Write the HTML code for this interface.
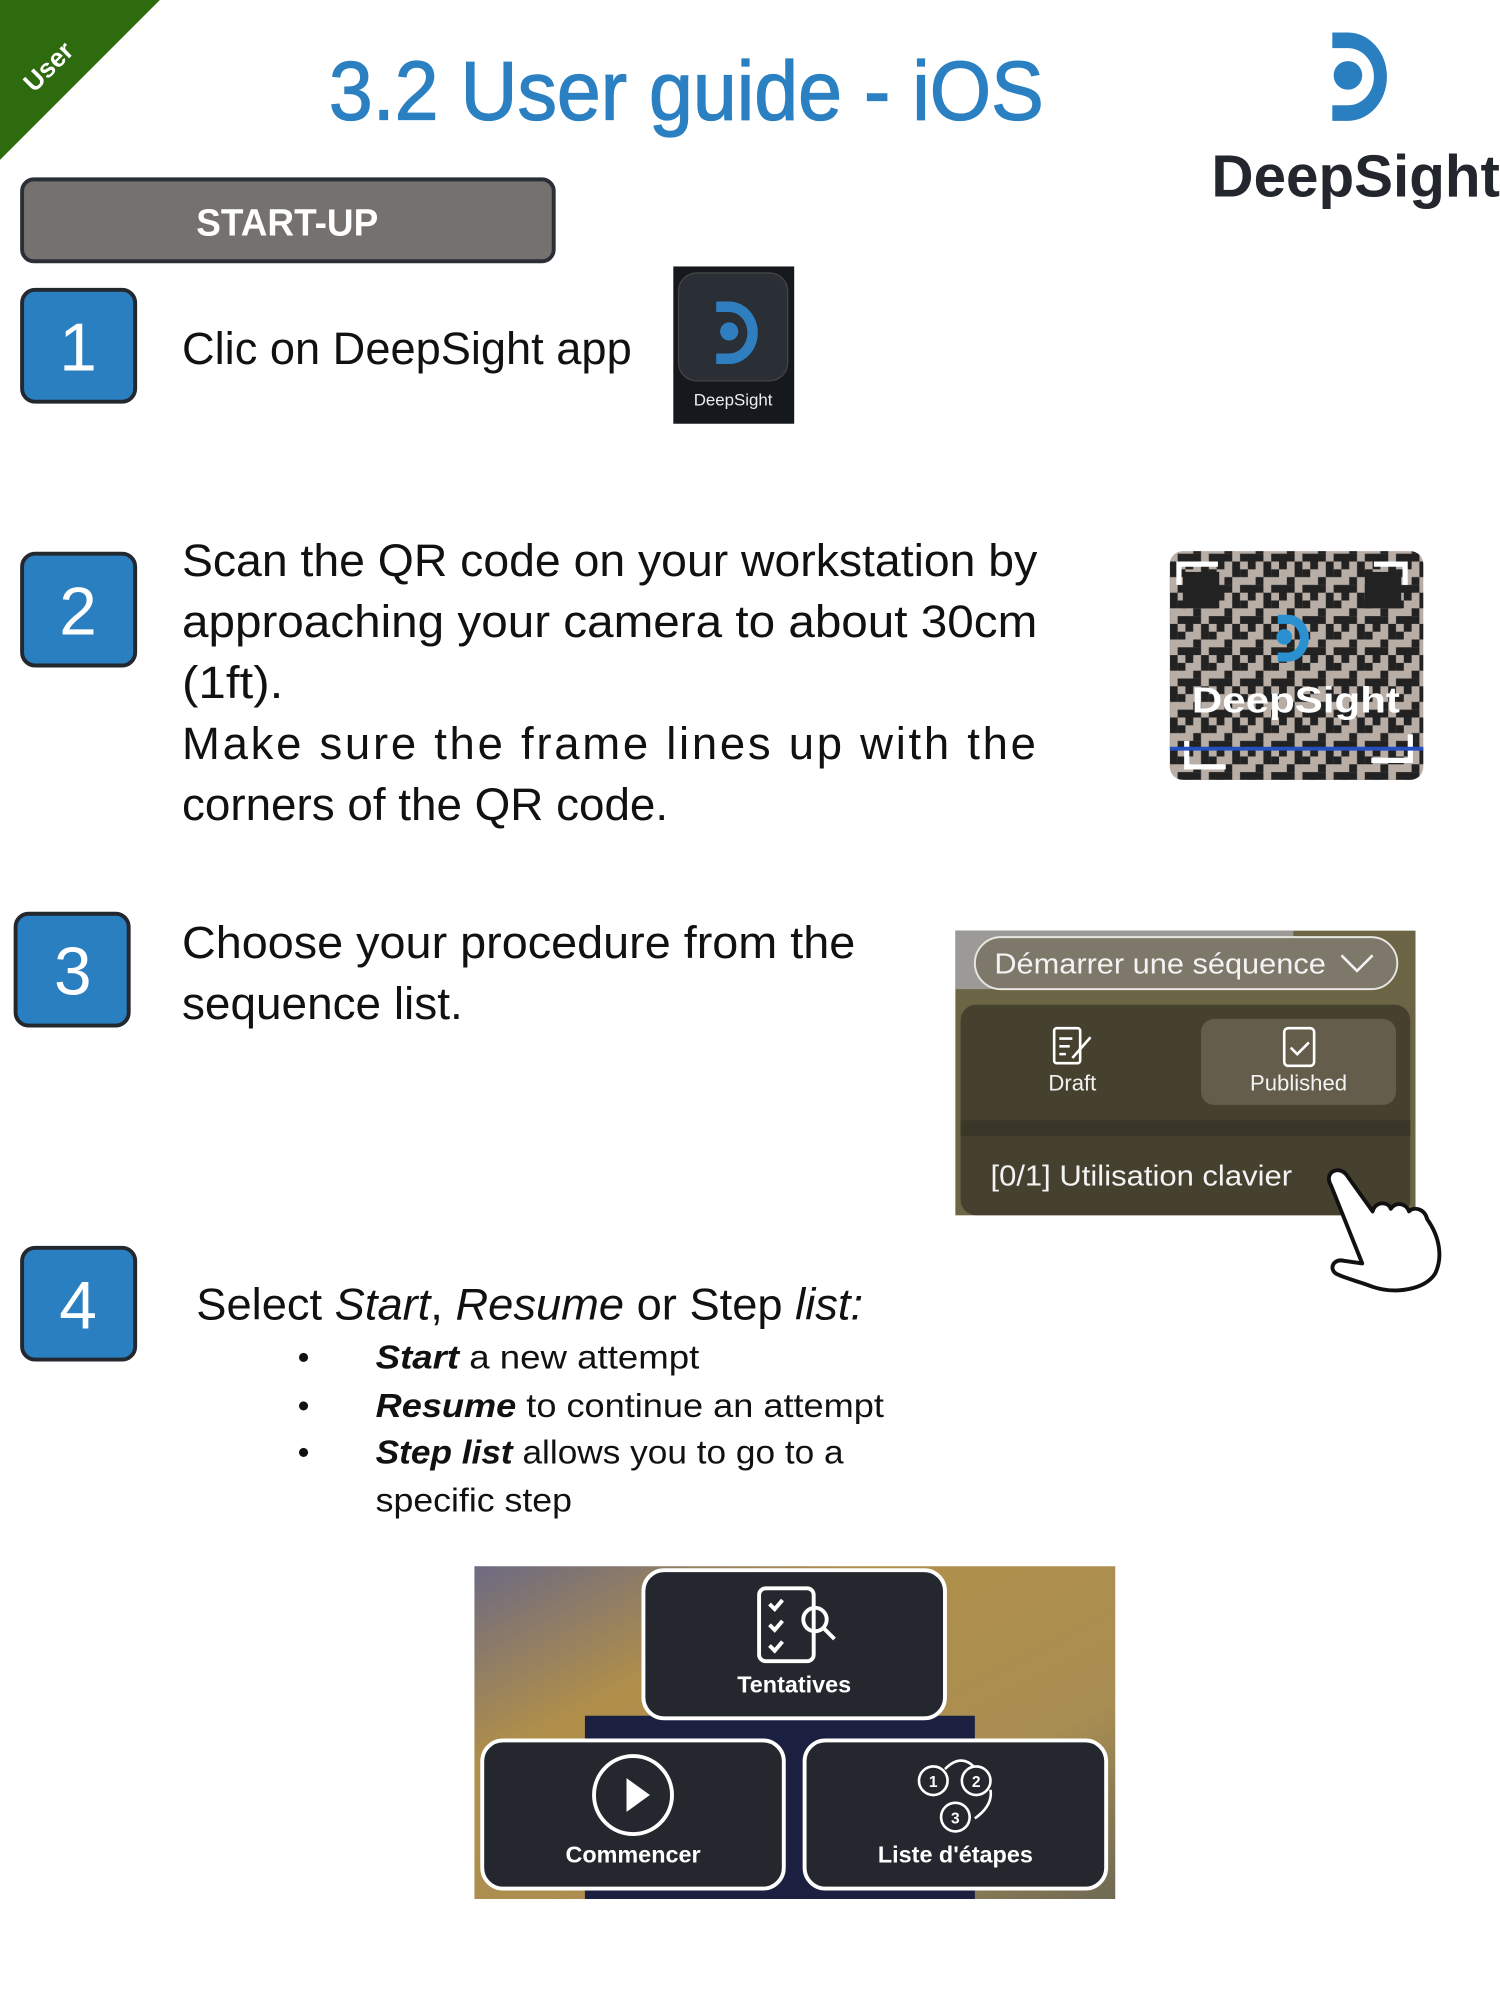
<!DOCTYPE html>
<html><head><meta charset="utf-8"><style>html,body{margin:0;padding:0;background:#fff}svg{display:block}</style></head><body>
<svg width="1500" height="2000" viewBox="0 0 1154 1538.7" preserveAspectRatio="none" xmlns="http://www.w3.org/2000/svg" font-family="'Liberation Sans', sans-serif">
<defs>
<pattern id="qr" width="24" height="24" patternUnits="userSpaceOnUse">
<rect width="24" height="24" fill="#b9aea6"/>
<rect x="0" y="0" width="6" height="6" fill="#222"/><rect x="12" y="0" width="6" height="12" fill="#222"/>
<rect x="6" y="12" width="6" height="6" fill="#222"/><rect x="18" y="6" width="6" height="6" fill="#222"/>
<rect x="0" y="18" width="12" height="6" fill="#222"/><rect x="18" y="18" width="6" height="6" fill="#222"/>
</pattern>
<linearGradient id="bg4" x1="0" y1="0" x2="1" y2="1">
<stop offset="0" stop-color="#6d6a82"/><stop offset="0.3" stop-color="#b08f4a"/><stop offset="0.7" stop-color="#a98e52"/><stop offset="1" stop-color="#6f6a55"/></linearGradient>
</defs>
<!-- green corner -->
<polygon points="0,0 123,0 0,123" fill="#2e6a0e"/>
<text x="42" y="56" transform="rotate(-45 42 56)" text-anchor="middle" fill="#fff" font-weight="bold" font-size="20">User</text>
<!-- title -->
<text x="253" y="92" font-size="64" fill="#2b80c2" stroke="#2b80c2" stroke-width="1" textLength="550" lengthAdjust="spacingAndGlyphs">3.2 User guide - iOS</text>
<!-- logo -->
<path d="M1025,25 h12 a30,34 0 0 1 0,68 h-12 v-12 h12 a20,22 0 0 0 0,-44 h-12 z" fill="#2a7fc0"/>
<circle cx="1037" cy="58" r="11" fill="#2a7fc0"/>
<text x="932" y="151" font-size="46" font-weight="bold" fill="#23262d" textLength="222" lengthAdjust="spacingAndGlyphs">DeepSight</text>
<!-- START-UP -->
<rect x="17" y="138" width="409" height="63" rx="9" fill="#75716e" stroke="#2b2f36" stroke-width="3"/>
<text x="221" y="181" text-anchor="middle" font-size="29" font-weight="bold" fill="#fff" textLength="140" lengthAdjust="spacingAndGlyphs">START-UP</text>
<!-- number boxes -->
<g fill="#2a7fc0" stroke="#23272e" stroke-width="3">
<rect x="17" y="223" width="87" height="86" rx="10"/>
<rect x="17" y="426" width="87" height="86" rx="10"/>
<rect x="12" y="703" width="87" height="86" rx="10"/>
<rect x="17" y="960" width="87" height="86" rx="10"/>
</g>
<g fill="#fff" font-size="52" text-anchor="middle">
<text x="60" y="285">1</text><text x="60" y="488">2</text><text x="56" y="765">3</text><text x="60" y="1022">4</text>
</g>
<!-- step 1 -->
<g font-size="35" fill="#111">
<text x="140" y="280" textLength="346" lengthAdjust="spacingAndGlyphs">Clic on DeepSight app</text>
<text x="140" y="443" textLength="658" lengthAdjust="spacingAndGlyphs">Scan the QR code on your workstation by</text>
<text x="140" y="490" textLength="658" lengthAdjust="spacingAndGlyphs">approaching your camera to about 30cm</text>
<text x="140" y="537" textLength="78" lengthAdjust="spacingAndGlyphs">(1ft).</text>
<text x="140" y="584" textLength="657" lengthAdjust="spacing">Make sure the frame lines up with the</text>
<text x="140" y="631" textLength="374" lengthAdjust="spacingAndGlyphs">corners of the QR code.</text>
<text x="140" y="737" textLength="518" lengthAdjust="spacingAndGlyphs">Choose your procedure from the</text>
<text x="140" y="784" textLength="216" lengthAdjust="spacingAndGlyphs">sequence list.</text>
</g>
<!-- app icon -->
<rect x="518" y="205" width="93" height="121" fill="#15181d"/>
<rect x="522" y="210" width="84" height="83" rx="14" fill="#2a2e35" stroke="#444" stroke-width="1"/>
<path d="M551,232 h10 a22,24 0 0 1 0,48 h-10 v-8 h10 a14,16 0 0 0 0,-32 h-10 z" fill="#2f7fc0"/>
<circle cx="561" cy="255" r="7" fill="#2f7fc0"/>
<text x="564" y="312" text-anchor="middle" font-size="13" fill="#eee">DeepSight</text>
<!-- QR -->
<rect x="900" y="424" width="195" height="176" rx="10" fill="url(#qr)"/>
<g fill="none" stroke="#fff" stroke-width="4">
<path d="M907,450 v-16 h30"/><path d="M1057,434 h24 v16"/><path d="M913,570 v20 h30"/><path d="M1055,585 h30 v-20"/>
</g>
<rect x="910" y="440" width="28" height="28" fill="#222"/><rect x="1050" y="440" width="28" height="28" fill="#222"/>
<line x1="900" y1="576" x2="1095" y2="576" stroke="#2450c0" stroke-width="3"/>
<path d="M983,473 h8 a16,18 0 0 1 0,36 h-8 v-7 h8 a9,11 0 0 0 0,-22 h-8 z" fill="#2a90d0"/>
<circle cx="988" cy="490" r="6" fill="#2a90d0"/>
<text x="997" y="548" text-anchor="middle" font-size="28" font-weight="bold" fill="#fff" textLength="160" lengthAdjust="spacingAndGlyphs">DeepSight</text>
<!-- screenshot 3 -->
<rect x="735" y="716" width="354" height="219" fill="#6c6545"/>
<rect x="735" y="716" width="260" height="45" fill="#9c9a97"/>
<rect x="750" y="721" width="325" height="40" rx="20" fill="#7d7869" stroke="#e8e6e0" stroke-width="1.5"/>
<text x="765" y="749" font-size="22" fill="#f3f3f3" textLength="255" lengthAdjust="spacingAndGlyphs">Démarrer une séquence</text>
<path d="M1032,735 l12,12 l12,-12" fill="none" stroke="#f3f3f3" stroke-width="2"/>
<rect x="739" y="773" width="346" height="162" rx="12" fill="#46412f"/>
<rect x="739" y="862" width="346" height="12" fill="#3a3628"/>
<rect x="924" y="784" width="150" height="66" rx="10" fill="#645d4b"/>
<rect x="811" y="791" width="20" height="27" rx="2" fill="none" stroke="#fff" stroke-width="2"/>
<path d="M815,799 h10 M815,805 h8 M815,811 h5 M825,814 l14,-16" stroke="#fff" stroke-width="2"/>
<rect x="988" y="791" width="23" height="29" rx="3" fill="none" stroke="#fff" stroke-width="2"/>
<path d="M993,806 l5,5 l9,-9" fill="none" stroke="#fff" stroke-width="2"/>
<text x="825" y="839" text-anchor="middle" font-size="17" fill="#f3f3f3">Draft</text>
<text x="999" y="839" text-anchor="middle" font-size="17" fill="#f3f3f3">Published</text>
<text x="762" y="912" font-size="22" fill="#f3f3f3" textLength="232" lengthAdjust="spacingAndGlyphs">[0/1] Utilisation clavier</text>
<!-- hand -->
<path d="M1024,912 c-6,-10 6,-16 12,-8 l20,28 c2,-8 12,-8 14,-2 c4,-6 12,-4 14,2 c4,-4 12,-2 14,6 c10,14 12,30 6,42 c-8,12 -30,16 -48,10 c-10,-4 -20,-6 -28,-10 c-6,-4 -2,-12 6,-10 l14,2 z" fill="#fff" stroke="#111" stroke-width="3" stroke-linejoin="round"/>
<!-- step 4 -->
<text x="151" y="1015" font-size="34" fill="#111" textLength="513" lengthAdjust="spacingAndGlyphs">Select <tspan font-style="italic">Start</tspan>, <tspan font-style="italic">Resume</tspan> or Step <tspan font-style="italic">list:</tspan></text>
<g font-size="26" fill="#111">
<text x="229" y="1053">•</text><text x="229" y="1090">•</text><text x="229" y="1126">•</text>
<text x="289" y="1053" textLength="249" lengthAdjust="spacingAndGlyphs"><tspan font-weight="bold" font-style="italic">Start</tspan> a new attempt</text>
<text x="289" y="1090" textLength="391" lengthAdjust="spacingAndGlyphs"><tspan font-weight="bold" font-style="italic">Resume</tspan> to continue an attempt</text>
<text x="289" y="1126" textLength="360" lengthAdjust="spacingAndGlyphs"><tspan font-weight="bold" font-style="italic">Step list</tspan> allows you to go to a</text>
<text x="289" y="1163" textLength="151" lengthAdjust="spacingAndGlyphs">specific step</text>
</g>
<!-- bottom screenshot -->
<rect x="365" y="1205" width="493" height="256" fill="url(#bg4)"/>
<rect x="450" y="1320" width="300" height="141" fill="#1c2040"/>
<g fill="#24282e" stroke="#fff" stroke-width="3">
<rect x="495" y="1208" width="232" height="114" rx="16"/>
<rect x="371" y="1339" width="232" height="114" rx="16"/>
<rect x="619" y="1339" width="232" height="114" rx="16"/>
</g>
<g fill="none" stroke="#fff" stroke-width="3">
<rect x="584" y="1222" width="42" height="56" rx="5"/>
<circle cx="627" cy="1246" r="9"/><path d="M634,1253 l8,8"/>
<path d="M592,1234 l4,4 l6,-7 M592,1250 l4,4 l6,-7 M592,1266 l4,4 l6,-7"/>
<circle cx="487" cy="1381" r="30"/>
<circle cx="718" cy="1370" r="11" stroke-width="2"/><circle cx="751" cy="1370" r="11" stroke-width="2"/><circle cx="735" cy="1398" r="11" stroke-width="2"/>
<path d="M727,1361 q12,-12 22,-2 M762,1377 q2,12 -12,22" stroke-width="2"/>
</g>
<polygon points="482,1368 482,1394 500,1381" fill="#fff"/>
<g fill="#fff" font-size="12" font-weight="bold" text-anchor="middle">
<text x="718" y="1375">1</text><text x="751" y="1375">2</text><text x="735" y="1403">3</text>
</g>
<g fill="#fff" font-size="18" font-weight="bold" text-anchor="middle">
<text x="611" y="1302">Tentatives</text>
<text x="487" y="1433">Commencer</text>
<text x="735" y="1433">Liste d'étapes</text>
</g>
</svg>
</body></html>
